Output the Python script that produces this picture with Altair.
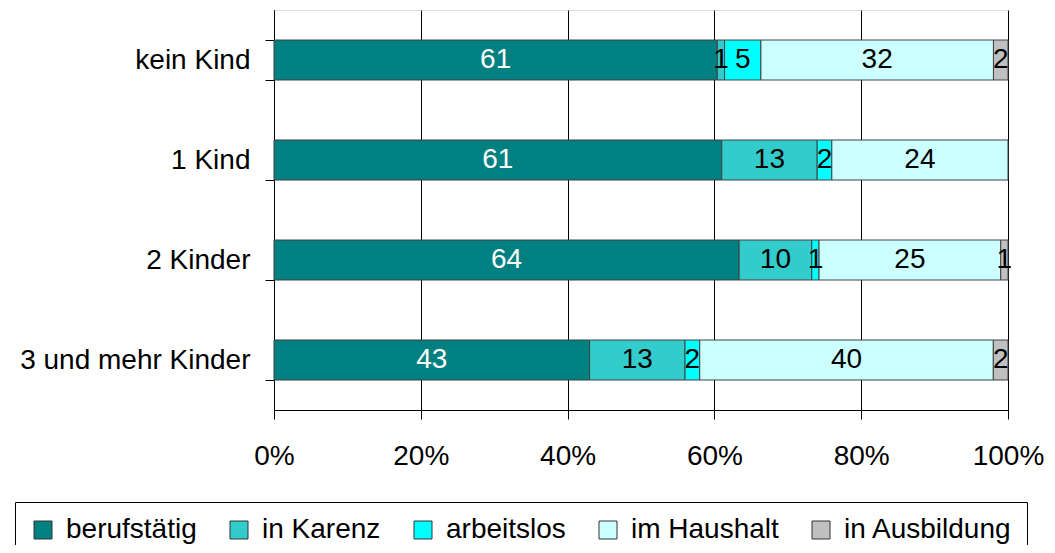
import altair as alt
import pandas as pd

categories = ["kein Kind", "1 Kind", "2 Kinder", "3 und mehr Kinder"]
series = ["berufstätig", "in Karenz", "arbeitslos", "im Haushalt", "in Ausbildung"]
colors = ["#008080", "#33CCCC", "#00FFFF", "#CCFFFF", "#C0C0C0"]

berufstaetig = [61, 61, 64, 43]
in_karenz = [1, 13, 10, 13]
arbeitslos = [5, 2, 1, 2]
im_haushalt = [32, 24, 25, 40]
in_ausbildung = [2, 0, 1, 2]

values = [berufstaetig, in_karenz, arbeitslos, im_haushalt, in_ausbildung]
rows = []
for si, s in enumerate(series):
    for ci, c in enumerate(categories):
        v = values[si][ci]
        if v > 0:
            rows.append({"cat": c, "series": s, "order": si, "value": v})
df = pd.DataFrame(rows)

FONT = "Liberation Sans, Arial, sans-serif"

base = alt.Chart(df).transform_stack(
    stack="value", groupby=["cat"], as_=["x0", "x1"], offset="normalize",
    sort=[alt.SortField("order", order="ascending")]
).transform_calculate(mid="(datum.x0 + datum.x1) / 2")

yenc = alt.Y("cat:N", sort=categories,
             scale=alt.Scale(paddingInner=0.6, paddingOuter=0.3),
             axis=alt.Axis(title=None, tickBand="extent", tickSize=9, labelPadding=15,
                           labelFontSize=28, labelFont=FONT, labelColor="black",
                           domainColor="black", tickColor="black", labelLimit=400))

bars = base.mark_bar(stroke="#404040", strokeWidth=1).encode(
    x=alt.X("x0:Q", scale=alt.Scale(domain=[0, 1], nice=False),
            axis=alt.Axis(title=None, format="%", values=[0, 0.2, 0.4, 0.6, 0.8, 1.0],
                          grid=True, gridColor="black", gridOpacity=1, gridWidth=1,
                          domainColor="black", tickColor="black", tickSize=9,
                          labelFontSize=28, labelFont=FONT, labelColor="black",
                          labelPadding=23, labelFlush=False)),
    x2="x1:Q",
    y=yenc,
    color=alt.Color("series:N", scale=alt.Scale(domain=series, range=colors),
                    legend=alt.Legend(title=None, orient="none", legendX=-259, legendY=492,
                                      direction="horizontal", symbolType="square",
                                      symbolSize=324, symbolStrokeColor="#333333",
                                      symbolStrokeWidth=1, labelFontSize=28, labelFont=FONT,
                                      labelColor="black", labelOffset=9, labelLimit=400,
                                      columnPadding=28, padding=14, strokeColor="black",
                                      fillColor="white")),
)

texts = base.mark_text(fontSize=28, font=FONT, baseline="middle", align="center").encode(
    x=alt.X("mid:Q"),
    y=alt.Y("cat:N", sort=categories),
    text=alt.Text("value:Q"),
    color=alt.condition(alt.datum.series == "berufstätig", alt.value("white"), alt.value("black")),
)

chart = alt.layer(bars, texts).properties(
    width=734, height=400,
    autosize=alt.AutoSizeParams(type="none"),
    padding={"left": 266, "top": 2, "right": 38, "bottom": 135},
).configure_view(stroke="black", strokeWidth=1).configure(background="white")

chart.save("out.html", embed_options={"renderer": "svg", "actions": False})
